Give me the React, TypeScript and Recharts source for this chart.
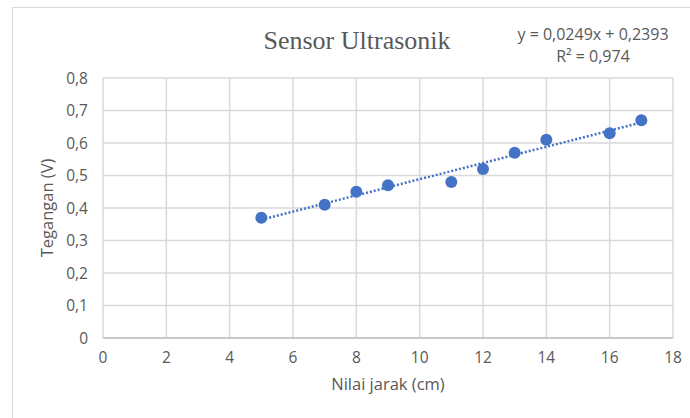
import React from 'react';
import {
  ComposedChart,
  Scatter,
  Line,
  XAxis,
  YAxis,
  CartesianGrid,
  Label,
  Customized,
} from 'recharts';

const jarak = [5, 7, 8, 9, 11, 12, 13, 14, 16, 17];
const tegangan = [0.37, 0.41, 0.45, 0.47, 0.48, 0.52, 0.57, 0.61, 0.63, 0.67];
const trendX = [5, 17];
const trendY = [0.364, 0.663];
const xTicks = [0, 2, 4, 6, 8, 10, 12, 14, 16, 18];
const yTicks = [0, 0.1, 0.2, 0.3, 0.4, 0.5, 0.6, 0.7, 0.8];
const title = 'Sensor Ultrasonik';
const equation = 'y = 0,0249x + 0,2393';
const r2 = 'R² = 0,974';

const points = jarak.map((x, i) => ({ x, y: tegangan[i] }));
const trend = trendX.map((x, i) => ({ x, t: trendY[i] }));

const BLUE = '#4472C4';
const GRAY = '#595959';
const FONT = '"Liberation Sans Narrow", "Open Sans", sans-serif';

const fmt = (v: number) => String(Math.round(v * 10) / 10).replace('.', ',');

const Texts = () => (
  <g>
    <text x={357} y={49} textAnchor="middle" fontFamily='"Liberation Serif", serif' fontSize={26} fill={GRAY}>
      {title}
    </text>
    <text x={593} y={40} textAnchor="middle" fontFamily={FONT} fontSize={16} fill={GRAY}>
      {equation}
    </text>
    <text x={593} y={62} textAnchor="middle" fontFamily={FONT} fontSize={16} fill={GRAY}>
      {r2}
    </text>
  </g>
);

export default function App() {
  return (
    <div style={{ position: 'absolute', left: 0, top: 0, width: 690, height: 418, background: '#fff', overflow: 'hidden' }}>
      <div
        style={{
          position: 'absolute',
          left: 12,
          top: 7,
          width: 720,
          height: 480,
          border: '1.5px solid #d9d9d9',
        }}
      />
      <div style={{ position: 'absolute', left: 0, top: 0 }}>
        <ComposedChart
          width={690}
          height={418}
          margin={{ top: 78, right: 17, bottom: 20, left: 33 }}
        >
          <CartesianGrid stroke="#d9d9d9" strokeWidth={1.5} />
          <XAxis
            type="number"
            dataKey="x"
            domain={[0, 18]}
            ticks={xTicks}
            interval={0}
            axisLine={{ stroke: '#bfbfbf', strokeWidth: 1.5 }}
            tickLine={false}
            tickSize={0}
            tickMargin={14}
            height={60}
            tick={{ fill: GRAY, fontSize: 15.5, fontFamily: FONT }}
            allowDataOverflow
          >
            <Label value="Nilai jarak (cm)" position="insideBottom" offset={8} fill={GRAY} fontSize={16.5} fontFamily={FONT} />
          </XAxis>
          <YAxis
            type="number"
            domain={[0, 0.8]}
            ticks={yTicks}
            interval={0}
            axisLine={false}
            tickLine={false}
            tickSize={0}
            tickMargin={15}
            width={70}
            tickFormatter={fmt}
            tick={{ fill: GRAY, fontSize: 15.5, fontFamily: FONT }}
            allowDataOverflow
          >
            <Label value="Tegangan (V)" angle={-90} position="insideLeft" offset={14} fill={GRAY} fontSize={16.5} fontFamily={FONT} style={{ textAnchor: 'middle' }} />
          </YAxis>
          <Line
            data={trend}
            dataKey="t"
            type="linear"
            stroke={BLUE}
            strokeWidth={2.5}
            strokeDasharray="2 2"
            dot={false}
            activeDot={false}
            isAnimationActive={false}
          />
          <Scatter
            data={points}
            dataKey="y"
            fill={BLUE}
            shape={(p: any) => <circle cx={p.cx} cy={p.cy} r={6} fill={BLUE} />}
            isAnimationActive={false}
          />
          <Customized component={Texts} />
        </ComposedChart>
      </div>
    </div>
  );
}
